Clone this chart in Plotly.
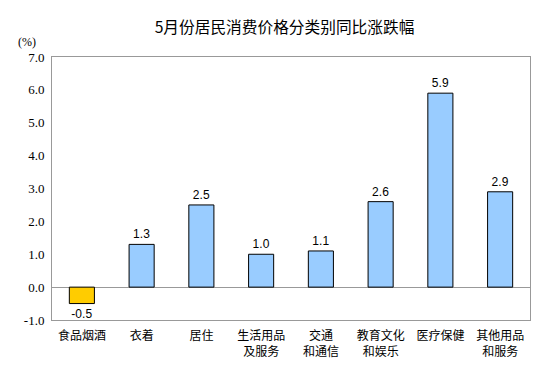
import plotly.graph_objects as go

categories = ["食品烟酒", "衣着", "居住", "生活用品<br>及服务", "交通<br>和通信", "教育文化<br>和娱乐", "医疗保健", "其他用品<br>和服务"]
values = [-0.5, 1.3, 2.5, 1.0, 1.1, 2.6, 5.9, 2.9]
y_ticks = [-1.0, 0.0, 1.0, 2.0, 3.0, 4.0, 5.0, 6.0, 7.0]
y_tick_labels = ["-1.0", "0.0", "1.0", "2.0", "3.0", "4.0", "5.0", "6.0", "7.0"]

colors = ["#FFCC00" if v < 0 else "#99CCFF" for v in values]

fig = go.Figure(go.Bar(
    x=categories, y=values,
    marker=dict(color=colors, line=dict(color="#000000", width=1)),
    width=0.42,
    text=[f"{v:.1f}" for v in values],
    textposition="outside",
    cliponaxis=False,
    textfont=dict(family="Liberation Sans, Arial", size=12, color="#000000"),
))

fig.update_layout(
    width=553, height=384,
    margin=dict(l=44, r=31, t=49, b=72),
    paper_bgcolor="white", plot_bgcolor="white",
    showlegend=False,
    title=dict(text="5月份居民消费价格分类别同比涨跌幅", x=0.5, xanchor="center",
               y=1 - 20/384, yanchor="middle",
               font=dict(family="Noto Sans CJK SC", size=15.7, color="#000000")),
    xaxis=dict(showline=True, linecolor="#999999", linewidth=1, mirror=True,
               ticks="", showgrid=False,
               tickfont=dict(family="Noto Sans CJK SC", size=12, color="#000000"),
               ticklabelstandoff=5),
    yaxis=dict(range=[-1, 7], tickvals=y_ticks, ticktext=y_tick_labels,
               showline=True, linecolor="#999999", linewidth=1, mirror=True,
               showgrid=False, zeroline=True, zerolinecolor="#999999", zerolinewidth=1,
               ticks="", ticklabelstandoff=4,
               tickfont=dict(family="Liberation Serif, Times New Roman", size=13, color="#000000")),
    bargap=0.58,
)

fig.add_annotation(text="(%)", xref="paper", yref="paper", x=-0.03, y=1.057,
                   xanchor="right", yanchor="middle", showarrow=False,
                   font=dict(family="Liberation Serif, Times New Roman", size=12, color="#000000"))

fig.write_html("out.html")
